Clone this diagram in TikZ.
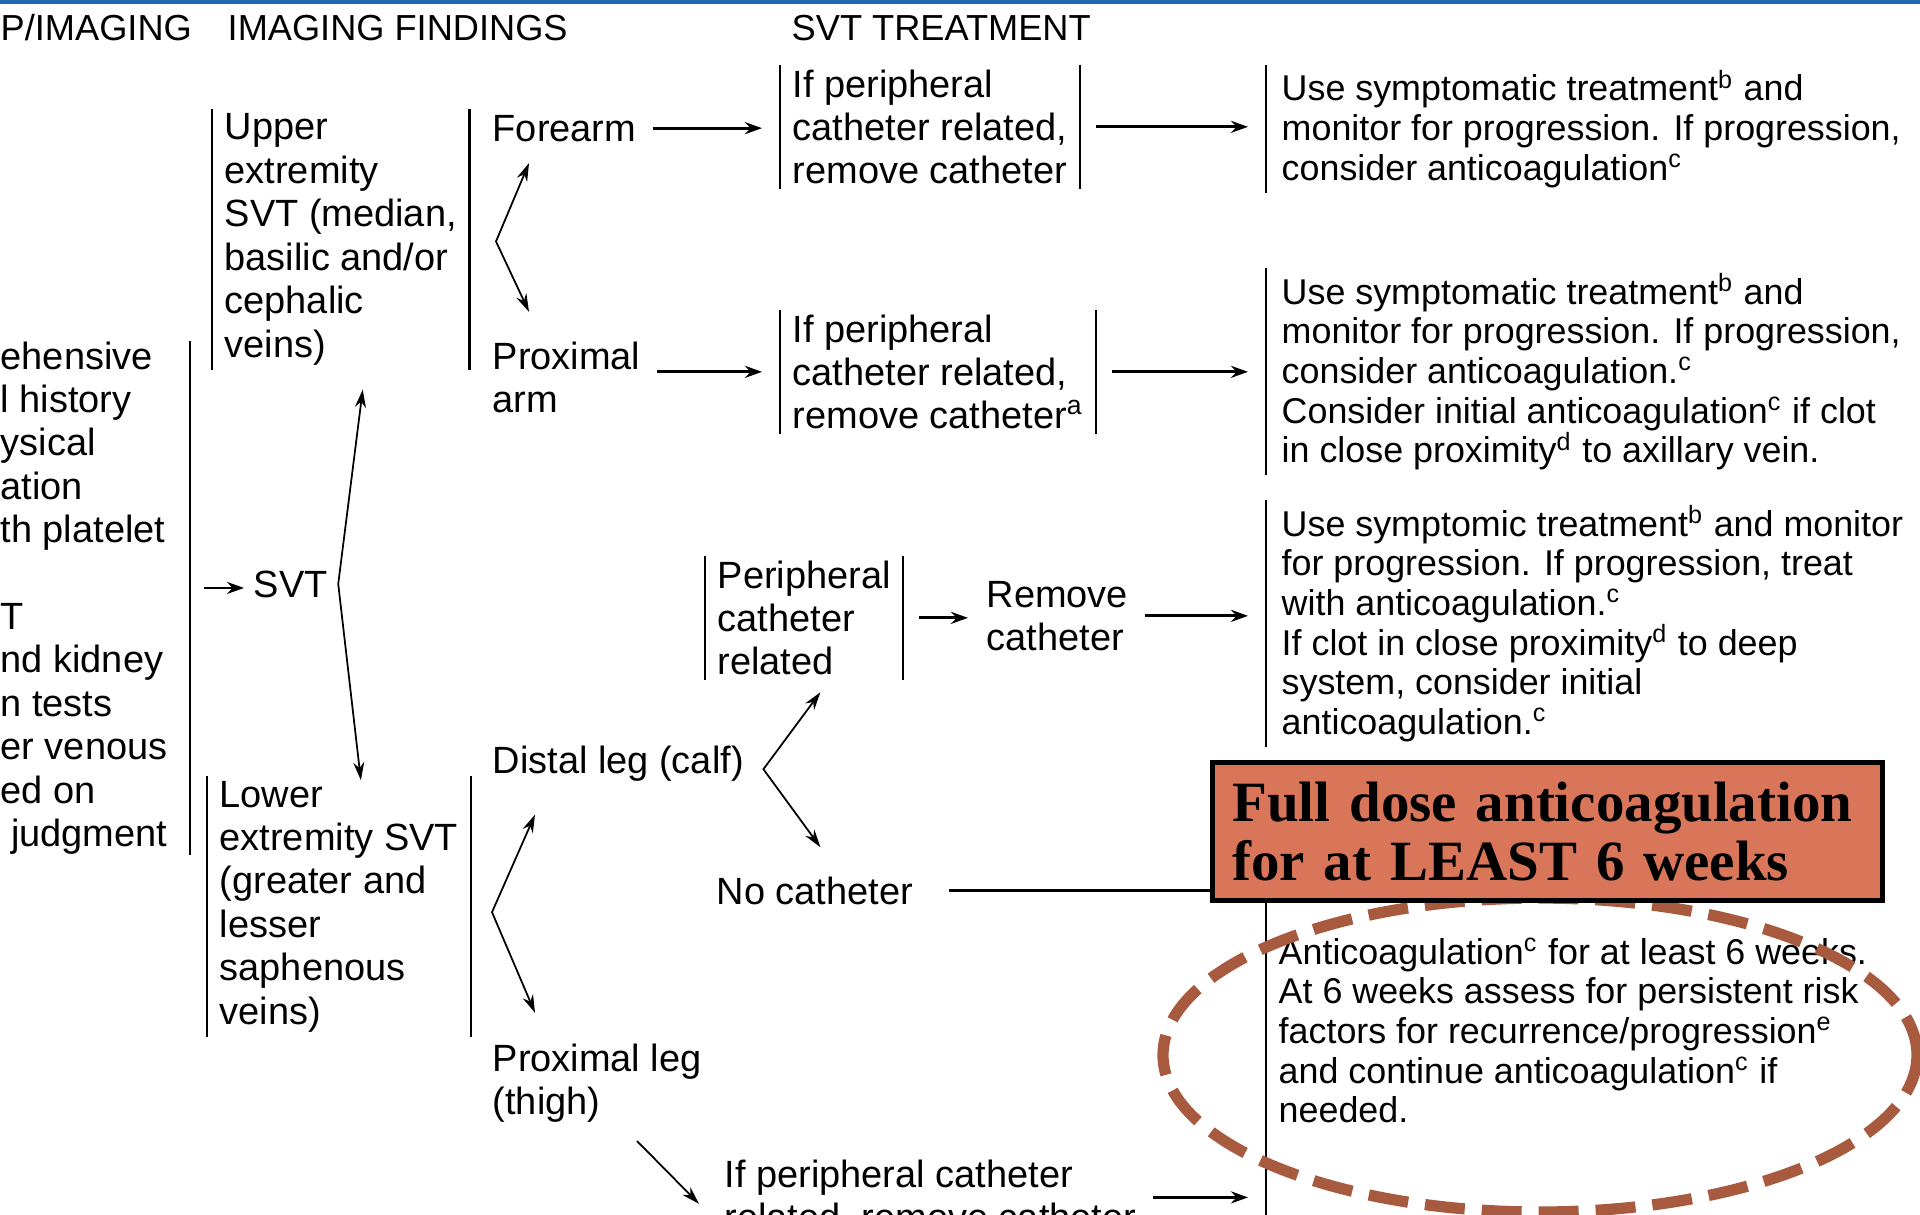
\documentclass[tikz,border=0pt]{standalone}
\usepackage{fontspec}
\setmainfont{Liberation Sans}
\newfontfamily\boxfont{Liberation Serif}
\usepackage{tikz}
\usetikzlibrary{arrows.meta,positioning,calc}

\definecolor{ruleBlue}{RGB}{31,105,178}
\definecolor{alertFill}{RGB}{217,118,90}
\definecolor{ringBrown}{RGB}{168,90,63}

\begin{document}
\begin{tikzpicture}[
    hdr/.style={font=\fontsize{10.3}{12}\selectfont, anchor=base west, inner sep=0pt},
    txt/.style={font=\fontsize{10.8}{12.35}\selectfont, align=left, anchor=base west, inner sep=0pt},
    barLine/.style={draw=black, line width=0.6pt},
    brk/.style={txt, inner xsep=1.2mm, inner ysep=0.4mm,
        append after command={(\tikzlastnode.north west) edge[barLine] (\tikzlastnode.south west)
            (\tikzlastnode.north east) edge[barLine] (\tikzlastnode.south east)}},
    note/.style={font=\fontsize{10.2}{11.3}\selectfont, align=left, anchor=base west, inner sep=0pt},
    noteBar/.style={note, inner xsep=1.5mm, inner ysep=0.4mm,
        append after command={(\tikzlastnode.north west) edge[barLine] (\tikzlastnode.south west)}},
    flowArrow/.style={-{Stealth[length=1.7mm, width=1.2mm]}, line width=0.8pt, shorten <=1.6mm, shorten >=1.8mm},
    branchArrow/.style={{Stealth[length=1.8mm, width=1.1mm]}-{Stealth[length=1.8mm, width=1.1mm]}, line width=0.5pt},
    singleArrow/.style={-{Stealth[length=1.8mm, width=1.1mm]}, line width=0.5pt},
    alertBox/.style={rectangle, draw=black, line width=1.3pt, fill=alertFill, text width=6.3cm, align=left,
        inner sep=2mm, anchor=north west, font=\boxfont\bfseries\fontsize{16.2}{16.6}\selectfont},
    ring/.style={draw=ringBrown, line width=3.2pt, dash pattern=on 4mm off 1.7mm}
]

\useasboundingbox (0,0) rectangle (19.2,-12.14);

% Top rule and column headings
\draw[ruleBlue, line width=1.1pt] (0,-0.02) -- (19.2,-0.02);
\node[hdr] (hdWork) at (0,-0.40) {P/IMAGING};
\node[hdr] (hdFind) at (2.27,-0.40) {IMAGING FINDINGS};
\node[hdr] (hdTreat) at (7.91,-0.40) {SVT TREATMENT};

% Workup column (cut at the left edge); nodes sit on the baseline of their last line
\node[txt] (workup) at (0,-8.465) {ehensive\\l history\\ysical\\ation\\th platelet\\[12.35pt]T\\nd kidney\\n tests\\er venous\\ed on\\\ judgment};
\draw[barLine] ([xshift=1.9cm]workup.north west) -- ([xshift=1.9cm]workup.south west);

% Imaging findings: SVT and its two sites
\node[txt] (svt) at (2.53,-5.97) {SVT};
\coordinate (svtIn) at ([xshift=-4.9mm,yshift=-0.4mm]svt.west);
\draw[flowArrow, line width=0.7pt, shorten <=0pt, shorten >=0.9mm] (svtIn) -- (svtIn -| svt.west);

\node[brk] (upper) at (2.12,-3.57) {Upper\\extremity\\SVT (median,\\basilic and/or\\cephalic\\veins)};
\node[brk] (lower) at (2.07,-10.24) {Lower\\extremity SVT\\(greater and\\lesser\\saphenous\\veins)};
\draw[branchArrow] ([xshift=2.2mm,yshift=-2.0mm]upper.south) -- ([xshift=1.0mm]svt.east) -- ([xshift=2.2mm,yshift=-0.4mm]lower.north);

% Upper extremity branch
\node[txt] (forearm) at (4.92,-1.41) {Forearm};
\node[txt] (proxarm) at (4.92,-4.124) {Proximal\\arm};
\draw[branchArrow] ([xshift=3.7mm,yshift=-2.1mm]forearm.south west) -- ($(forearm.south west)!.5!(proxarm.north west)+(0.04,0)$) -- ([xshift=3.7mm,yshift=2.9mm]proxarm.north west);

\node[brk] (treat1) at (7.80,-1.838) {If peripheral\\catheter related,\\remove catheter};
\node[brk] (treat2) at (7.80,-4.288) {If peripheral\\catheter related,\\remove catheter\textsuperscript{a}};
\draw[flowArrow] (forearm.east) -- (forearm.east -| treat1.west);
\draw[flowArrow] (proxarm.east |- treat2.west) -- (treat2.west);

\node[noteBar] (note1) at (12.66,-1.804) {Use symptomatic treatment\textsuperscript{b} and\\monitor for progression. If progression,\\consider anticoagulation\textsuperscript{c}};
\node[noteBar] (note2) at (12.66,-4.629) {Use symptomatic treatment\textsuperscript{b} and\\monitor for progression. If progression,\\consider anticoagulation.\textsuperscript{c}\\Consider initial anticoagulation\textsuperscript{c} if clot\\in close proximity\textsuperscript{d} to axillary vein.};
\draw[flowArrow] (treat1.east) -- (treat1.east -| note1.west);
\draw[flowArrow] (treat2.east) -- (treat2.east -| note2.west);

% Lower extremity branch
\node[txt] (distal) at (4.92,-7.73) {Distal leg (calf)};
\node[txt] (proxleg) at (4.92,-11.144) {Proximal leg\\(thigh)};
\draw[branchArrow] ([xshift=4.3mm,yshift=-3.3mm]distal.south west) -- ($(distal.south west)!.5!(proxleg.north west)$) -- ([xshift=4.3mm,yshift=3mm]proxleg.north west);

\node[brk] (periph) at (7.05,-6.748) {Peripheral\\catheter\\related};
\node[txt] (remove) at (9.86,-6.504) {Remove\\catheter};
\node[txt] (nocath) at (7.16,-9.04) {No catheter};
\coordinate (calfFork) at ([xshift=1.9mm,yshift=-0.6mm]distal.east);
\draw[branchArrow] ([shift={(0.57,0.77)}]calfFork) -- (calfFork) -- ([shift={(0.57,-0.78)}]calfFork);

\node[noteBar] (note3) at (12.66,-7.346) {Use symptomic treatment\textsuperscript{b} and monitor\\for progression. If progression, treat\\with anticoagulation.\textsuperscript{c}\\If clot in close proximity\textsuperscript{d} to deep\\system, consider initial\\anticoagulation.\textsuperscript{c}};
\draw[flowArrow] (periph.east) -- (periph.east -| remove.west);
\draw[flowArrow] (remove.east) -- (remove.east -| note3.west);

\node[txt] (ifperiph) at (7.24,-12.304) {If peripheral catheter\\related, remove catheter};
\draw[singleArrow] ([xshift=14.5mm,yshift=-1.8mm]proxleg.south west) -- ([xshift=-2.5mm,yshift=-4.5mm]ifperiph.north west);

% Anticoagulation note with its long bar
\node[note] (note4) at (12.78,-11.229) {Anticoagulation\textsuperscript{c} for at least 6 weeks.\\At 6 weeks assess for persistent risk\\factors for recurrence/progression\textsuperscript{e}\\and continue anticoagulation\textsuperscript{c} if\\needed.};
\coordinate (lowBar) at ($(note4.north west)+(-0.12,0.7)$);
\draw[barLine] (lowBar) -- ($(note4.north west |- ifperiph.south)+(-0.12,-0.3)$);
\draw[flowArrow] (ifperiph.east) -- (ifperiph.east -| lowBar);

% Highlight ring and warning box on top
\draw[ring] (15.40,-10.55) ellipse [x radius=3.77cm, y radius=1.57cm];
\node[alertBox] (fulldose) at (12.10,-7.60) {Full dose anticoagulation\\for at LEAST 6 weeks};
\draw[line width=0.8pt, shorten <=3.5mm] (nocath.east) -- (nocath.east -| fulldose.west);

\end{tikzpicture}
\end{document}
